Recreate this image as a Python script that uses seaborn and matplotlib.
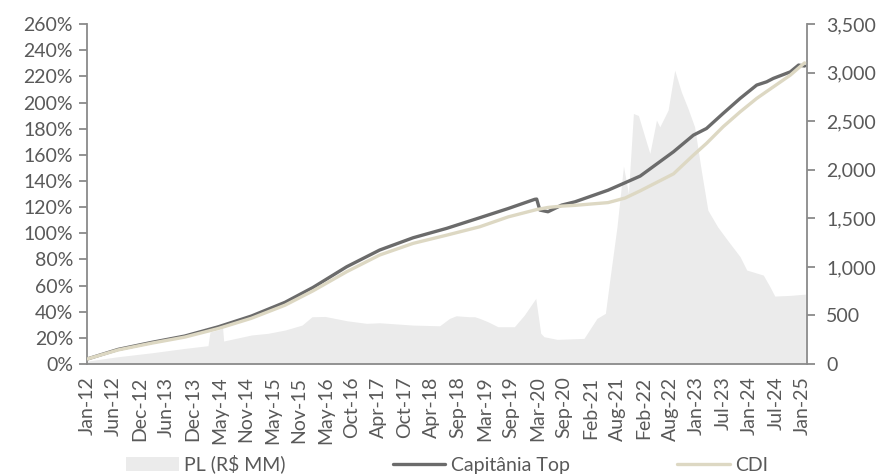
import matplotlib
matplotlib.use("Agg")
import matplotlib.pyplot as plt
import matplotlib.dates as mdates
from matplotlib.patches import Patch
from matplotlib.lines import Line2D
from matplotlib.ticker import FuncFormatter, MultipleLocator
import numpy as np
import pandas as pd
import seaborn as sns

# ---------------- data ----------------
perf_dates = [
    "2012-01-02", "2012-07-27", "2013-03-08", "2013-10-12", "2014-05-23",
    "2014-12-28", "2015-08-08", "2016-02-10", "2016-09-20", "2017-04-27",
    "2017-12-05", "2018-07-16", "2019-02-20", "2019-08-29", "2020-02-20",
    "2020-03-04", "2020-03-25", "2020-05-18", "2020-08-17", "2020-11-13",
    "2021-06-21", "2021-10-12", "2022-01-20", "2022-08-29", "2023-01-08",
    "2023-04-05", "2023-07-24", "2023-11-14", "2024-03-03", "2024-05-08",
    "2024-06-21", "2024-10-12", "2024-12-06", "2025-01-15",
]
capitania_top = [
    3.8, 11.2, 16.6, 21.4, 28.5,
    36.7, 47.2, 58.6, 74.4, 87.2,
    96.6, 103.8, 111.9, 119.0, 126.0,
    126.2, 117.8, 116.5, 121.6, 124.1,
    133.0, 138.7, 143.8, 162.4, 175.1,
    180.2, 191.7, 203.2, 213.4, 215.9,
    218.5, 223.5, 228.7, 228.0,
]
cdi = [
    3.8, 10.8, 16.0, 20.6, 27.2,
    35.0, 45.0, 56.0, 70.6, 83.4,
    92.3, 98.6, 105.0, 112.6, 117.8,
    118.2, 118.6, 119.8, 120.8, 121.4,
    123.5, 127.0, 132.5, 145.5, 159.8,
    168.8, 181.5, 192.9, 203.2, 208.5,
    212.0, 221.0, 226.5, 230.4,
]

pl_dates = [
    "2012-01-02", "2012-07-24", "2013-03-08", "2013-10-12", "2014-03-15",
    "2014-03-28", "2014-05-30", "2014-06-20", "2014-06-27", "2014-12-28",
    "2015-04-16", "2015-08-08", "2015-11-29", "2016-02-03", "2016-05-01",
    "2016-09-20", "2017-01-30", "2017-04-27", "2017-12-05", "2018-05-30",
    "2018-08-04", "2018-09-17", "2018-12-13", "2019-01-18", "2019-02-20",
    "2019-04-16", "2019-06-21", "2019-10-08", "2019-12-13", "2020-02-27",
    "2020-03-31", "2020-04-22", "2020-07-19", "2021-01-12", "2021-04-08",
    "2021-06-03", "2021-07-05", "2021-08-19", "2021-10-01", "2021-11-03",
    "2021-12-06", "2022-01-08", "2022-03-25", "2022-05-08", "2022-05-30",
    "2022-07-24", "2022-09-06", "2022-10-20", "2022-12-03", "2023-01-16",
    "2023-03-01", "2023-04-14", "2023-06-18", "2023-08-22", "2023-11-14",
    "2023-12-28", "2024-04-16", "2024-05-30", "2024-07-01", "2024-10-12",
    "2025-01-20",
]
pl_values = [
    30, 75, 116, 161, 189,
    330, 355, 370, 237, 299,
    316, 350, 401, 487, 490,
    446, 419, 425, 401, 394,
    470, 497, 487, 487, 470,
    435, 384, 384, 504, 676,
    316, 281, 254, 264, 470,
    522, 899, 1413, 2038, 1757,
    2580, 2560, 2169, 2512, 2443,
    2615, 3026, 2803, 2632, 2443,
    1997, 1585, 1413, 1276, 1105,
    968, 916, 796, 700, 707,
    720,
]

tick_labels = [
    "Jan-12", "Jun-12", "Dec-12", "Jun-13", "Dec-13", "May-14", "Nov-14",
    "May-15", "Nov-15", "May-16", "Oct-16", "Apr-17", "Oct-17", "Apr-18",
    "Sep-18", "Mar-19", "Sep-19", "Mar-20", "Sep-20", "Feb-21", "Aug-21",
    "Feb-22", "Aug-22", "Jan-23", "Jul-23", "Jan-24", "Jul-24", "Jan-25",
]
series_names = ["Capitânia Top", "CDI"]
pl_name = "PL (R$ MM)"

# ---------------- style ----------------
sns.set_style("white")
plt.rcParams['font.family'] = ['Lato', 'DejaVu Sans']

TXT = "#595959"
AXC = "#8a8a8a"
PL_COLOR = "#ebebeb"
CAP_COLOR = "#6b6b6b"
CDI_COLOR = "#ddd8c3"
FS = 14

fig = plt.figure(figsize=(8.84, 4.74), dpi=100)
ax_pl = fig.add_axes([0.0984, 0.232, 0.8142, 0.717])
ax = ax_pl.twinx()

perf = pd.DataFrame({"date": pd.to_datetime(perf_dates),
                     series_names[0]: capitania_top,
                     series_names[1]: cdi})
perf_long = perf.melt("date", var_name="serie", value_name="ret")
pl = pd.DataFrame({"date": pd.to_datetime(pl_dates), "pl": pl_values})

ax_pl.fill_between(pl["date"], 0, pl["pl"], color=PL_COLOR, lw=0)
sns.lineplot(data=perf_long, x="date", y="ret", hue="serie",
             hue_order=series_names,
             palette={series_names[0]: CAP_COLOR, series_names[1]: CDI_COLOR},
             linewidth=2.4, ax=ax, legend=False)

# axes placement
ax.yaxis.tick_left()
ax.yaxis.set_label_position("left")
ax_pl.yaxis.tick_right()
ax_pl.yaxis.set_label_position("right")

ax.set_ylim(0, 260)
ax.yaxis.set_major_locator(MultipleLocator(20))
ax.yaxis.set_major_formatter(FuncFormatter(lambda v, p: f"{v:.0f}%"))
ax_pl.set_ylim(0, 3500)
ax_pl.yaxis.set_major_locator(MultipleLocator(500))
ax_pl.yaxis.set_major_formatter(FuncFormatter(lambda v, p: f"{v:,.0f}"))

start = mdates.date2num(pd.Timestamp("2012-01-02"))
end = mdates.date2num(pd.Timestamp("2025-01-01"))
step = (end - start) / (len(tick_labels) - 1)
tick_pos = start + step * np.arange(len(tick_labels))
ax_pl.set_xticks(tick_pos)
ax_pl.set_xticklabels(tick_labels, rotation=90)
ax_pl.set_xlim(start, start + step * 27.16)

for a in (ax, ax_pl):
    a.set_xlabel("")
    a.set_ylabel("")
    for s in a.spines.values():
        s.set_visible(False)

for side in ("left", "bottom", "right"):
    ax_pl.spines[side].set_visible(True)
    ax_pl.spines[side].set_color(AXC)
    ax_pl.spines[side].set_linewidth(1.3)

tp = dict(direction="out", length=6, width=1.3, color=AXC,
          labelcolor=TXT, labelsize=FS)
ax.tick_params(axis="y", pad=4, **tp)
ax_pl.tick_params(axis="y", pad=8, **tp)
ax_pl.tick_params(axis="x", pad=3, **tp)

handles = [Patch(facecolor=PL_COLOR, edgecolor="none"),
           Line2D([], [], color=CAP_COLOR, lw=2.4),
           Line2D([], [], color=CDI_COLOR, lw=2.4)]
fig.legend(handles, [pl_name] + series_names, loc="lower center",
           bbox_to_anchor=(0.506, -0.036), ncol=3, frameon=False,
           fontsize=FS, handlelength=2.7, handletextpad=0.3,
           columnspacing=5.5, labelcolor=TXT)

fig.savefig("out.png", dpi=100)
